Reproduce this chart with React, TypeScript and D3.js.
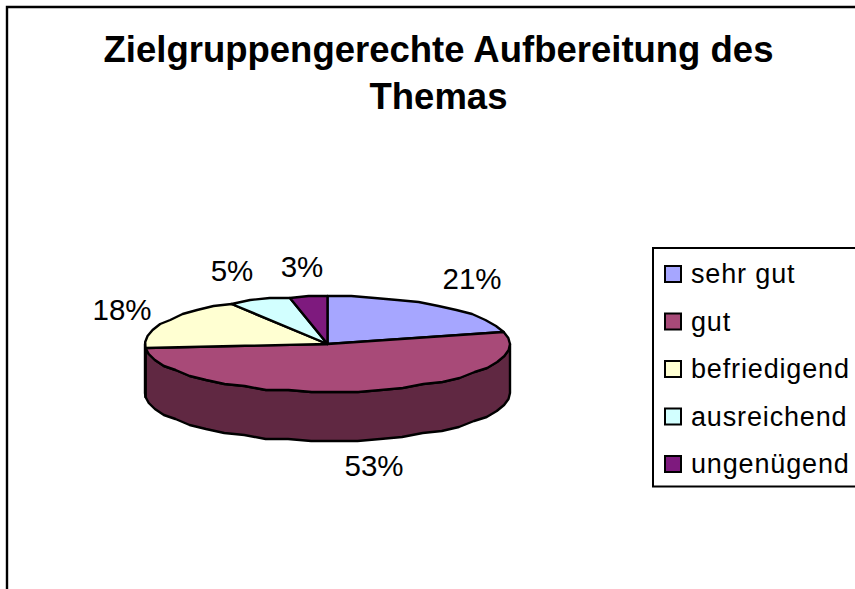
import React from "react";
import * as d3 from "d3";

const categories = ["sehr gut", "gut", "befriedigend", "ausreichend", "ungenügend"];
const values = [20.8, 53.0, 17.4, 5.5, 3.3];
const pctLabels = ["21%", "53%", "18%", "5%", "3%"];
const topColors = ["#A6A6FF", "#A84A78", "#FFFFD2", "#D2FFFF", "#7E1A7E"];
const wallColors = ["#6B6BA6", "#602842", "#A6A688", "#88A6A6", "#521052"];
const labelPos: [number, number][] = [[472, 289], [374, 476], [122, 320], [232, 281], [302, 277]];
const titleLines = ["Zielgruppengerechte Aufbereitung des", "Themas"];

const W = 855, H = 589;
const cx = 327.5, cy = 344, rx = 182.5, ry = 48, depth = 49;
const STEP = Math.PI / 24;

const px = (a: number) => cx + rx * Math.sin(a);
const py = (a: number) => Math.round((cy - ry * Math.cos(a)) / 2) * 2;

function arcAngles(a0: number, a1: number): number[] {
  const n = Math.max(1, Math.ceil((a1 - a0) / STEP));
  return d3.range(n + 1).map((i) => a0 + ((a1 - a0) * i) / n);
}

const pieGen = d3.pie<number>().sort(null).startAngle(0).endAngle(2 * Math.PI);
const arcs = pieGen(values);
const line = d3.line<[number, number]>().x((d) => d[0]).y((d) => d[1]);

export default function App() {
  const walls = arcs
    .map((s, i) => {
      const a0 = Math.max(s.startAngle, Math.PI / 2);
      const a1 = Math.min(s.endAngle, (3 * Math.PI) / 2);
      if (a1 <= a0) return null;
      const as = arcAngles(a0, a1);
      const pts: [number, number][] = [
        ...as.map((a) => [px(a), py(a)] as [number, number]),
        ...as.slice().reverse().map((a) => [px(a), py(a) + depth] as [number, number]),
      ];
      return <path key={i} d={line(pts)! + "Z"} fill={wallColors[i]} stroke="#000" strokeWidth={2.4} strokeLinejoin="round" />;
    })
    .filter(Boolean);

  return (
    <svg width={W} height={H} viewBox={`0 0 ${W} ${H}`} style={{ position: "absolute", left: 0, top: 0, background: "#fff", fontFamily: "'Liberation Sans', Arial, sans-serif" }}>
      <path d={`M7 ${H}V7H${W}`} fill="none" stroke="#000" strokeWidth={2.4} />
      {titleLines.map((t, i) => (
        <text key={t} x={438.5} y={61.5 + i * 47.5} textAnchor="middle" fontSize={36.5} fontWeight={700} fill="#000">{t}</text>
      ))}
      {walls}
      {arcs.map((s, i) => {
        const pts: [number, number][] = [[cx, cy], ...arcAngles(s.startAngle, s.endAngle).map((a) => [px(a), py(a)] as [number, number])];
        return <path key={i} d={line(pts)! + "Z"} fill={topColors[i]} stroke="#000" strokeWidth={2.4} strokeLinejoin="round" />;
      })}
      {pctLabels.map((t, i) => (
        <text key={t} x={labelPos[i][0]} y={labelPos[i][1]} textAnchor="middle" fontSize={29.5} fill="#000">{t}</text>
      ))}
      <rect x={653} y={248} width={203} height={238.5} fill="#fff" stroke="#000" strokeWidth={2} />
      {categories.map((c, i) => (
        <g key={c}>
          <rect x={665} y={266 + i * 47.5} width={16} height={16} fill={topColors[i]} stroke="#000" strokeWidth={2} />
          <text x={691} y={283 + i * 47.5} fontSize={27} letterSpacing={0.85} fill="#000">{c}</text>
        </g>
      ))}
    </svg>
  );
}
